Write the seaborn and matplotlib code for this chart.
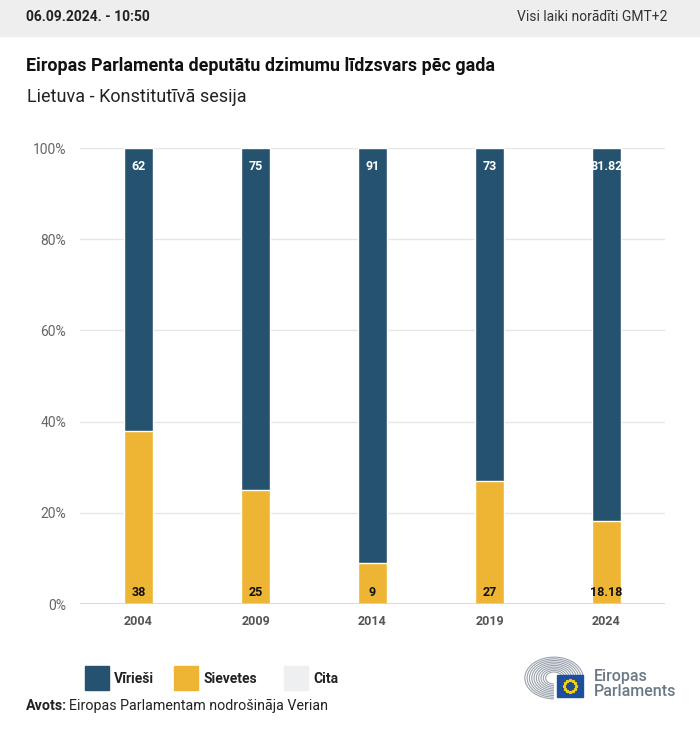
import matplotlib
matplotlib.use("Agg")
import matplotlib.pyplot as plt
import matplotlib.patches as mpatches
import numpy as np
import pandas as pd
import seaborn as sns

years = ["2004", "2009", "2014", "2019", "2024"]
men = [62, 75, 91, 73, 81.82]
women = [38, 25, 9, 27, 18.18]
men_labels = ["62", "75", "91", "73", "81.82"]
women_labels = ["38", "25", "9", "27", "18.18"]
yticks = [0, 20, 40, 60, 80, 100]
ytick_labels = ["0%", "20%", "40%", "60%", "80%", "100%"]

C_MEN = "#25536f"
C_WOMEN = "#eeb534"
C_OTHER = "#eeeff1"

sns.set_theme(style="white")
plt.rcParams["font.family"] = ["Roboto", "DejaVu Sans"]

W, H = 700, 731
fig = plt.figure(figsize=(W / 100, H / 100), dpi=100)

def fx(x):
    return x / W

def fy(y):
    return 1 - y / H

# header band
fig.patches.append(mpatches.Rectangle((0, fy(36)), 1, 36 / H, transform=fig.transFigure,
                                      color="#eeeeee", zorder=0))
fig.text(fx(26), fy(17), "06.09.2024. - 10:50", fontsize=10, fontweight="bold",
         color="#222222", va="center", ha="left")
fig.text(fx(667), fy(17), "Visi laiki norādīti GMT+2", fontsize=10, color="#333333",
         va="center", ha="right")
fig.text(fx(26), fy(66), "Eiropas Parlamenta deputātu dzimumu līdzsvars pēc gada",
         fontsize=12.9, fontweight="bold", color="#111111", va="center", ha="left")
fig.text(fx(27), fy(97), "Lietuva - Konstitutīvā sesija", fontsize=13, color="#222222",
         va="center", ha="left")

ax = fig.add_axes([fx(80), fy(604), (665 - 80) / W, (604 - 148) / H])
df = pd.DataFrame({"year": years, "men": men, "women": women})
df["total"] = df["men"] + df["women"]

sns.barplot(data=df, x="year", y="total", color=C_MEN, width=0.25, ax=ax,
            saturation=1, zorder=3)
sns.barplot(data=df, x="year", y="women", color=C_WOMEN, width=0.25, ax=ax,
            saturation=1, zorder=4)

ax.set_xlim(-0.5, 4.5)
ax.set_ylim(0, 100)
ax.set_yticks(yticks)
ax.set_yticklabels(ytick_labels, fontsize=10, color="#666666")
ax.tick_params(axis="y", length=0, pad=10)
ax.tick_params(axis="x", length=0, pad=8)
for lbl in ax.get_xticklabels():
    lbl.set_fontsize(9)
    lbl.set_fontweight("bold")
    lbl.set_color("#555555")
ax.set_xlabel("")
ax.set_ylabel("")
for s in ax.spines.values():
    s.set_visible(False)
ax.grid(axis="y", color="#e6e6e6", linewidth=1, zorder=0)
ax.axhline(0, color="#cdd5dd", linewidth=1.2, zorder=5)

for i in range(len(years)):
    tot = men[i] + women[i]
    ax.annotate(men_labels[i], (i, tot), xytext=(0, -13), textcoords="offset points",
                ha="center", va="center", color="white", fontsize=9, fontweight="bold",
                zorder=6)
    ax.annotate(women_labels[i], (i, 0), xytext=(0, 8), textcoords="offset points",
                ha="center", va="center", color="#111111", fontsize=9, fontweight="bold",
                zorder=6)

# legend
legend_items = [("Vīrieši", C_MEN, 85), ("Sievetes", C_WOMEN, 174), ("Cita", C_OTHER, 284)]
for name, col, x0 in legend_items:
    fig.patches.append(mpatches.Rectangle((fx(x0), fy(690)), 24 / W, 24 / H,
                                          transform=fig.transFigure, color=col))
    fig.text(fx(x0 + 29), fy(679), name, fontsize=10, fontweight="bold", color="#222222",
             va="center", ha="left")

fig.text(fx(26), fy(706), "Avots:", fontsize=10.3, fontweight="bold", color="#222222",
         va="center", ha="left")
fig.text(fx(69), fy(706), "Eiropas Parlamentam nodrošināja Verian", fontsize=10.3,
         color="#222222", va="center", ha="left")

# logo
lax = fig.add_axes([fx(518), fy(700), 70 / W, 45 / H])
lax.set_xlim(0, 70)
lax.set_ylim(0, 45)
lax.axis("off")
for r in np.arange(8, 30, 2.2):
    arc = mpatches.Arc((36, 22), 2 * r * 1.05, 2 * r * 0.75, theta1=90, theta2=270,
                       color="#9aa3ad", linewidth=0.8)
    lax.add_patch(arc)
    arc2 = mpatches.Arc((36, 22), 2 * r * 1.05, 2 * r * 0.75, theta1=0, theta2=90,
                        color="#9aa3ad", linewidth=0.8)
    lax.add_patch(arc2)
lax.add_patch(mpatches.Rectangle((39, 3), 26, 22, color="#1f4e9c", zorder=3))
for a in np.linspace(0, 2 * np.pi, 12, endpoint=False):
    lax.plot(52 + 6 * np.cos(a), 14 + 6 * np.sin(a), marker="*", color="#f3d012",
             markersize=2, zorder=4)
fig.text(fx(594), fy(677), "Eiropas", fontsize=11.5, fontweight="medium", color="#6b7886",
         va="center", ha="left")
fig.text(fx(594), fy(691), "Parlaments", fontsize=11.5, fontweight="medium", color="#6b7886",
         va="center", ha="left")

fig.savefig("out.png", dpi=100, facecolor="white")
